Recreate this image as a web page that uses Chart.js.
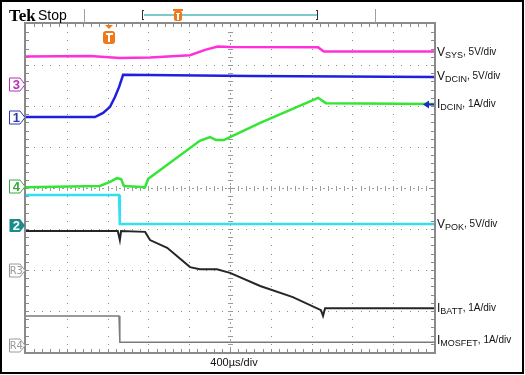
<!DOCTYPE html>
<html>
<head>
<meta charset="utf-8">
<script src="https://cdn.jsdelivr.net/npm/chart.js@4.4.1/dist/chart.umd.min.js"></script>
<style>
  html, body { margin: 0; padding: 0; background: #fff; }
  #wrap { width: 525px; height: 375px; }
</style>
</head>
<body>
<div id="wrap"><canvas id="scope" width="525" height="375"></canvas></div>
<script>
// scope capture: x in divisions (400us/div), y in screen divisions from bottom

const vsysT = [0, 1.57, 2.3, 3.04, 4.02, 4.39, 4.7, 5.0, 7.16, 7.3, 10];
const vsysV = [7.21, 7.22, 7.17, 7.18, 7.24, 7.37, 7.45, 7.44, 7.43, 7.33, 7.33];

const vdcinT = [0, 1.69, 1.89, 2.06, 2.18, 2.28, 2.38, 5.49, 10];
const vdcinV = [5.73, 5.73, 5.83, 5.98, 6.22, 6.46, 6.76, 6.73, 6.71];

const idcinT = [0, 1.81, 2.06, 2.23, 2.33, 2.4, 2.92, 2.99, 4.26, 4.51, 4.66, 4.85, 5.0, 5.74, 7.16, 7.35, 10];
const idcinV = [4.02, 4.05, 4.15, 4.24, 4.22, 4.05, 4.02, 4.22, 5.15, 5.24, 5.17, 5.17, 5.24, 5.59, 6.2, 6.07, 6.05];

const vpokT = [0, 2.28, 2.3, 10];
const vpokV = [3.83, 3.83, 3.12, 3.12];

const ibattT = [0, 2.25, 2.3, 2.33, 2.92, 3.04, 3.46, 4.02, 4.26, 4.68, 5.0, 5.74, 6.54, 7.23, 7.28, 7.33, 10];
const ibattV = [2.95, 2.95, 2.73, 2.95, 2.93, 2.73, 2.54, 2.07, 2.02, 2.02, 1.93, 1.61, 1.34, 1.02, 0.88, 1.07, 1.07];

const imosT = [0, 2.28, 2.3, 10];
const imosV = [0.88, 0.88, 0.24, 0.24];

const traceColors = ['#ff30d8', '#1f1fe0', '#33e633', '#33dff0', '#262626', '#7a7a7a'];
const traceWidths = [2.5, 2.5, 2.5, 2.5, 2, 1.5];

const labelMain  = ['V', 'V', 'I', 'V', 'I', 'I'];
const labelSub   = ['SYS', 'DCIN', 'DCIN', 'POK', 'BATT', 'MOSFET'];
const labelScale = ['5V/div', '5V/div', '1A/div', '5V/div', '1A/div', '1A/div'];
const labelLevel = [7.32, 6.74, 6.05, 3.12, 1.07, 0.29];

// channel ground markers on the left edge
const markerText  = ['3', '1', '4', '2', 'R3', 'R4'];
const markerLevel = [6.54, 5.73, 4.05, 3.1, 2.0, 0.18];
const markerColor = ['#b530b5', '#2a3aa8', '#3aa83a', '#1a8c8c', '#9a9a9a', '#9a9a9a'];

const triggerX = 2.03;
const timeLabel = '400µs/div';

const pts = (t, v) => t.map((x, i) => ({ x, y: v[i] }));
const series = [pts(vsysT, vsysV), pts(vdcinT, vdcinV), pts(idcinT, idcinV),
                pts(vpokT, vpokV), pts(ibattT, ibattV), pts(imosT, imosV)];

const graticule = {
  id: 'graticule',
  beforeDatasetsDraw(chart) {
    const { ctx, chartArea: a, scales: { x, y } } = chart;
    ctx.save();
    ctx.fillStyle = '#8a8a8a';
    // dotted lines, dot every 1/5 div
    for (let i = 1; i < 10; i++) {
      if (i === 5) continue;
      const px = Math.round(x.getPixelForValue(i));
      for (let k = 1; k < 40; k++) ctx.fillRect(px, Math.round(y.getPixelForValue(k / 5)), 1, 1);
    }
    for (let j = 1; j < 8; j++) {
      if (j === 4) continue;
      const py = Math.round(y.getPixelForValue(j));
      for (let k = 1; k < 50; k++) ctx.fillRect(Math.round(x.getPixelForValue(k / 5)), py, 1, 1);
    }
    // centre cross with minor ticks
    const cx = Math.round(x.getPixelForValue(5)), cy = Math.round(y.getPixelForValue(4));
    ctx.fillStyle = '#9a9a9a';
    for (let k = 1; k < 50; k++) {
      const px = Math.round(x.getPixelForValue(k / 5));
      ctx.fillRect(px, cy - 2, 1, 5);
      ctx.fillRect(px + 3, cy, 2, 1);
    }
    for (let k = 1; k < 40; k++) {
      const py = Math.round(y.getPixelForValue(k / 5));
      ctx.fillRect(cx - 2, py, 5, 1);
      ctx.fillRect(cx, py + 3, 1, 2);
    }
    // border ticks
    ctx.fillStyle = '#8a8a8a';
    for (let k = 1; k < 50; k++) {
      const px = Math.round(x.getPixelForValue(k / 5));
      ctx.fillRect(px, a.top, 1, 3);
      ctx.fillRect(px, a.bottom - 3, 1, 3);
    }
    for (let k = 1; k < 40; k++) {
      const py = Math.round(y.getPixelForValue(k / 5));
      ctx.fillRect(a.left, py, 3, 1);
      ctx.fillRect(a.right - 3, py, 3, 1);
    }
    ctx.strokeStyle = '#8a8a8a';
    ctx.lineWidth = 2;
    ctx.strokeRect(a.left - 1, a.top - 1, a.right - a.left + 2, a.bottom - a.top + 2);
    ctx.restore();
  },
  afterDatasetsDraw(chart) {
    const { ctx, chartArea: a, scales: { x, y } } = chart;
    ctx.save();

    // right-hand trace labels
    ctx.textBaseline = 'alphabetic';
    labelMain.forEach((m, i) => {
      const py = y.getPixelForValue(labelLevel[i]);
      let px = a.right + 3;
      ctx.fillStyle = '#111';
      ctx.font = '12px "Liberation Sans", Arial, sans-serif';
      ctx.fillText(m, px, py + 4);
      px += ctx.measureText(m).width;
      ctx.font = '9px "Liberation Sans", Arial, sans-serif';
      ctx.fillText(labelSub[i], px, py + 6);
      px += ctx.measureText(labelSub[i]).width;
      ctx.font = '10px "Liberation Sans", Arial, sans-serif';
      ctx.fillText(', ' + labelScale[i], px, py + 3);
    });

    // channel markers
    markerText.forEach((t, i) => {
      const py = Math.round(y.getPixelForValue(markerLevel[i])) + 0.5;
      const tip = a.left - 1, x0 = 9.5, x1 = tip - 5;
      ctx.beginPath();
      ctx.moveTo(x0, py - 6.5); ctx.lineTo(x1, py - 6.5); ctx.lineTo(tip, py);
      ctx.lineTo(x1, py + 6.5); ctx.lineTo(x0, py + 6.5); ctx.closePath();
      const filled = t === '2';
      ctx.lineWidth = 1;
      if (filled) { ctx.fillStyle = markerColor[i]; ctx.fill(); }
      else { ctx.fillStyle = '#fff'; ctx.fill(); ctx.strokeStyle = markerColor[i]; ctx.stroke(); }
      ctx.fillStyle = filled ? '#fff' : markerColor[i];
      ctx.font = t.length > 1 ? '11px "DejaVu Sans Condensed", "DejaVu Sans", sans-serif'
                              : 'bold 13px "Liberation Sans", Arial, sans-serif';
      ctx.textAlign = 'center';
      ctx.textBaseline = 'middle';
      ctx.fillText(t, (x0 + tip) / 2 - 1, py + 1);
    });

    // IDCIN level arrow
    const ay = Math.round(y.getPixelForValue(labelLevel[2])) + 0.5;
    ctx.fillStyle = '#1f2fc0';
    ctx.beginPath();
    ctx.moveTo(a.right - 11, ay); ctx.lineTo(a.right - 5, ay - 4); ctx.lineTo(a.right - 5, ay + 4); ctx.closePath();
    ctx.fill();
    ctx.fillRect(a.right - 6, ay - 1, 6, 2);

    // trigger position marker
    const tx = Math.round(x.getPixelForValue(triggerX));
    ctx.fillStyle = '#f07818';
    ctx.beginPath();
    ctx.moveTo(tx - 4, a.top + 1); ctx.lineTo(tx + 4, a.top + 1); ctx.lineTo(tx, a.top + 5); ctx.closePath();
    ctx.fill();
    ctx.beginPath();
    ctx.roundRect(tx - 6, a.top + 7, 12, 13, 3);
    ctx.fill();
    ctx.fillStyle = '#fff';
    ctx.fillRect(tx - 3, a.top + 9, 7, 2);
    ctx.fillRect(tx - 1, a.top + 9, 2, 9);

    // header
    ctx.textAlign = 'left';
    ctx.textBaseline = 'alphabetic';
    ctx.fillStyle = '#000';
    ctx.font = 'bold 17px "Liberation Serif", "DejaVu Serif", serif';
    ctx.fillText('Tek', 9, 21);
    ctx.font = '14px "Liberation Sans", Arial, sans-serif';
    ctx.fillText('Stop', 38, 20);
    ctx.fillStyle = '#a0a0a0';
    ctx.fillRect(84, 9, 1, 14);
    ctx.fillRect(375, 9, 1, 14);
    // record window bracket
    ctx.fillStyle = '#7ecaca';
    ctx.fillRect(144, 14, 173, 2);
    ctx.fillStyle = '#333';
    ctx.fillRect(142, 10, 1, 10); ctx.fillRect(142, 10, 2, 1); ctx.fillRect(142, 19, 2, 1);
    ctx.fillRect(317, 10, 1, 10); ctx.fillRect(316, 10, 2, 1); ctx.fillRect(316, 19, 2, 1);
    ctx.fillStyle = '#f07818';
    ctx.beginPath(); ctx.roundRect(174, 11, 8, 10, 2); ctx.fill();
    ctx.fillRect(173, 9, 10, 2);
    ctx.fillStyle = '#fff';
    ctx.fillRect(176, 13, 4, 1); ctx.fillRect(177, 13, 2, 7);

    // time base
    ctx.fillStyle = '#111';
    ctx.font = '11px "Liberation Sans", Arial, sans-serif';
    ctx.textAlign = 'center';
    ctx.fillText(timeLabel, 234, 366);

    // outer frame
    ctx.strokeStyle = '#000';
    ctx.lineWidth = 2;
    ctx.strokeRect(1, 1, 522, 372);
    ctx.restore();
  }
};

new Chart(document.getElementById('scope'), {
  type: 'line',
  data: {
    datasets: series.map((d, i) => ({
      data: d,
      borderColor: traceColors[i],
      borderWidth: traceWidths[i],
      pointRadius: 0,
      tension: 0,
      fill: false,
    })),
  },
  options: {
    responsive: false,
    animation: false,
    layout: { padding: { left: 26, top: 24, right: 91, bottom: 23 } },
    plugins: { legend: { display: false }, tooltip: { enabled: false } },
    scales: {
      x: { type: 'linear', min: 0, max: 10, display: false },
      y: { type: 'linear', min: 0, max: 8, display: false },
    },
  },
  plugins: [graticule],
});
</script>
</body>
</html>
